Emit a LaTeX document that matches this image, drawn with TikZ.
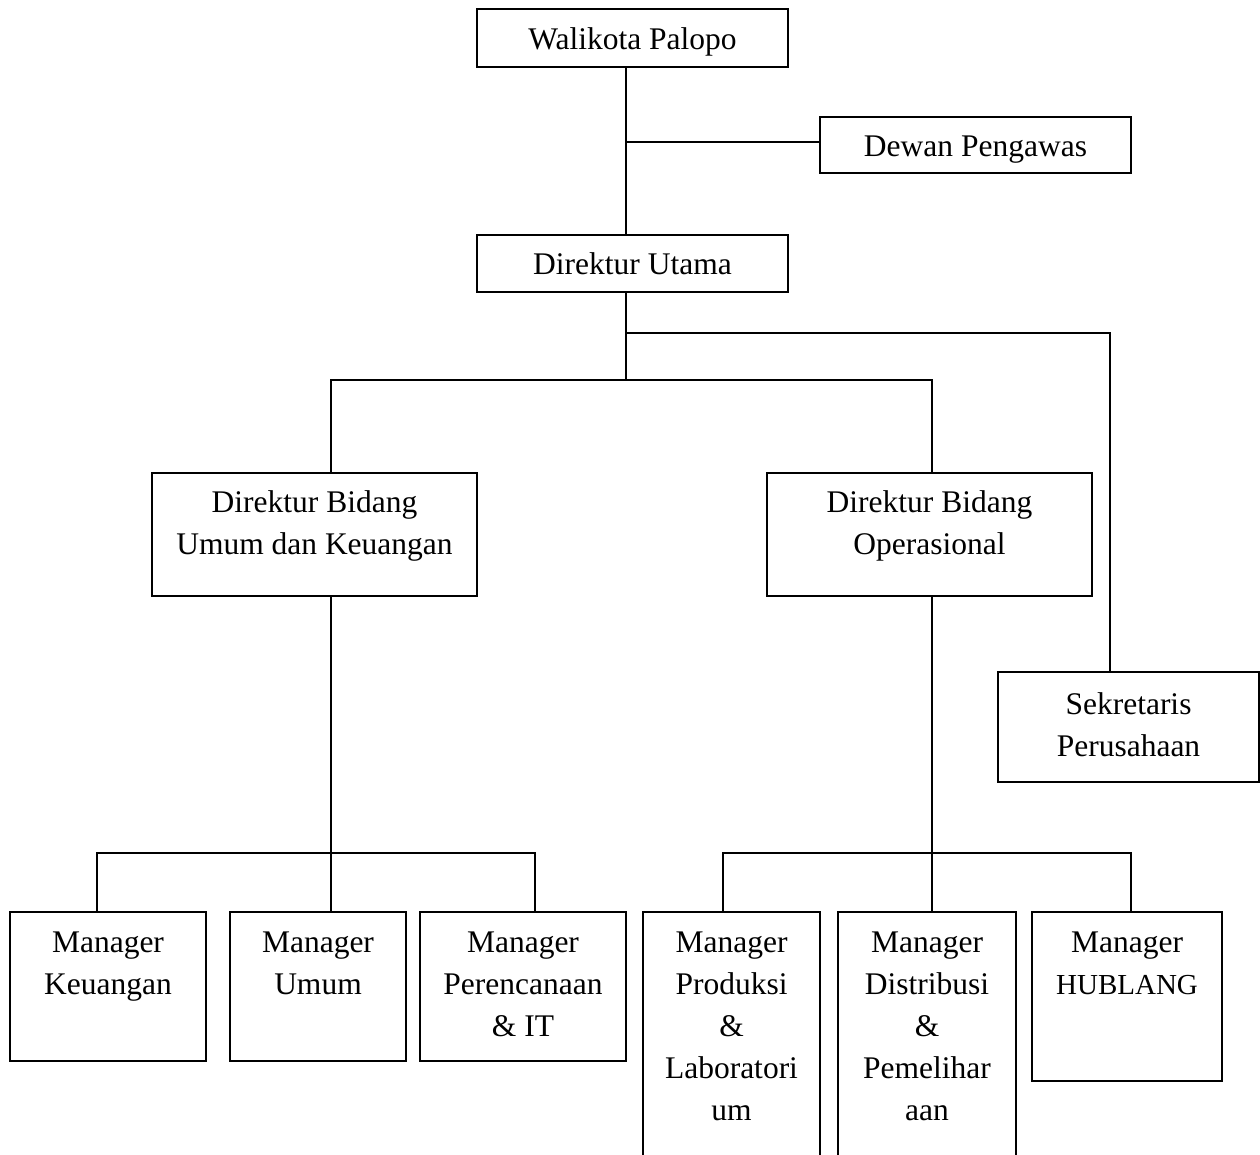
\documentclass[tikz,border=0pt]{standalone}
\usepackage{fontspec}
\setmainfont{Liberation Serif}
\tikzset{
  orgline/.style={line width=1.8pt},
  box/.style={draw, line width=1.8pt, inner sep=0pt, outer sep=0pt,
    font=\fontsize{31.5}{42}\selectfont},
}
\newcommand\orgbox[7]{%
  \node[box, anchor=north west] (#1) at (#2,#3)
  {\parbox[c][\dimexpr #5pt-#3pt\relax][t]{\dimexpr #4pt-#2pt\relax}{\centering\rule{0pt}{#6pt}#7\par}};}
\begin{document}
\begin{tikzpicture}[x=1pt,y=-1pt]
\useasboundingbox (0,0) rectangle (1260,1155);
\clip (0,0) rectangle (1260,1155);
\orgbox{wal}{477}{9}{788}{67}{41}{Walikota Palopo}
\orgbox{dp}{820}{117}{1131}{173}{40}{Dewan Pengawas}
\orgbox{du}{477}{235}{788}{292}{40}{Direktur Utama}
\orgbox{dbu}{152}{473}{477}{596}{39}{Direktur Bidang\\Umum dan Keuangan}
\orgbox{dbo}{767}{473}{1092}{596}{39}{Direktur Bidang\\Operasional}
\orgbox{sek}{998}{672}{1259}{782}{42}{Sekretaris\\Perusahaan}
\orgbox{mk}{10}{912}{206}{1061}{40}{Manager\\Keuangan}
\orgbox{mu}{230}{912}{406}{1061}{40}{Manager\\Umum}
\orgbox{mp}{420}{912}{626}{1061}{40}{Manager\\Perencanaan\\\& IT}
\orgbox{mpl}{643}{912}{820}{1165}{40}{Manager\\Produksi\\\&\\Laboratori\\um}
\orgbox{md}{838}{912}{1016}{1165}{40}{Manager\\Distribusi\\\&\\Pemelihar\\aan}
\orgbox{mh}{1032}{912}{1222}{1081}{40}{Manager\\{\fontsize{29}{42}\selectfont HUBLANG}}
% connectors
\coordinate (j1) at (626,142);
\coordinate (j2) at (626,333);
\coordinate (j3) at (626,380);
\coordinate (j4) at (1110,333);
\coordinate (j5) at (331,380);
\coordinate (j6) at (932,380);
\coordinate (j7) at (331,853);
\coordinate (k1) at (97,853);
\coordinate (k2) at (535,853);
\coordinate (j8) at (932,853);
\coordinate (k3) at (723,853);
\coordinate (k4) at (1131,853);
\draw[orgline] (j1 |- wal.south) -- (j1 |- du.north);
\draw[orgline] (j1) -- (j1 -| dp.west);
\draw[orgline] (j2 |- du.south) -- (j3);
\draw[orgline] (j2) -- (j4) -- (j4 |- sek.north);
\draw[orgline] (j5 |- dbu.north) -- (j5) -- (j6) -- (j6 |- dbo.north);
\draw[orgline] (j7 |- dbu.south) -- (j7 |- mu.north);
\draw[orgline] (k1 |- mk.north) -- (k1) -- (k2) -- (k2 |- mp.north);
\draw[orgline] (j8 |- dbo.south) -- (j8 |- md.north);
\draw[orgline] (k3 |- mpl.north) -- (k3) -- (k4) -- (k4 |- mh.north);
\end{tikzpicture}
\end{document}
